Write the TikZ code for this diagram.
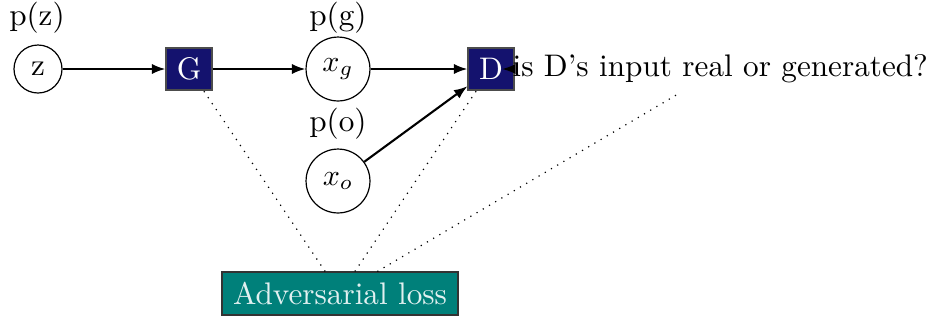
\documentclass[tikz,border=0pt]{standalone}
\usetikzlibrary{arrows.meta}
\definecolor{navyc}{RGB}{20,18,110}
\definecolor{tealc}{RGB}{0,128,122}
\definecolor{lighttext}{RGB}{225,240,240}
\begin{document}
\begin{tikzpicture}[x=0.3333pt,y=-0.3333pt,
  every node/.style={font=\fontsize{10.4}{12.5}\selectfont},
  circ/.style={circle, draw, thin, inner sep=0pt},
  blk/.style={draw=black!70, fill=navyc, text=white, minimum width=15.3pt, minimum height=14pt, inner sep=0pt},
  arr/.style={-{Latex[length=4.5pt,width=3.4pt]}, line width=0.7pt},
  lossbox/.style={draw=black!80, fill=tealc, text=lighttext, minimum width=78.7pt, minimum height=14.3pt, inner sep=0pt},
  dotl/.style={dotted, thin}]
\useasboundingbox (0,0) rectangle (928,325);
\node[circ, minimum size=16pt] (z) at (38,69) {z};
\node (pz) at (37,18) {p(z)};
\node[blk] (G) at (189,69) {G};
\node[circ, minimum size=21.3pt] (xg) at (338,69) {$x_g$};
\node (pg) at (338,18) {p(g)};
\node[blk] (D) at (491,69) {D};
\node[anchor=west, minimum height=16pt] (txt) at (502,69) {is D's input real or generated?};
\node (po) at (338,124) {p(o)};
\node[circ, minimum size=21.3pt] (xo) at (338,181) {$x_o$};
\node[lossbox] (loss) at (340,293.5) {Adversarial loss};
\draw[arr] (z) -- (G);
\draw[arr] (G) -- (xg);
\draw[arr] (xg) -- (D);
\draw[arr] (xo) -- (D);
\draw[arr] ([xshift=4.2pt]txt.west) -- (txt.west);
\draw[dotl] (loss) -- (G);
\draw[dotl] (loss) -- (D);
\draw[dotl] (loss) -- (txt);
\end{tikzpicture}
\end{document}
